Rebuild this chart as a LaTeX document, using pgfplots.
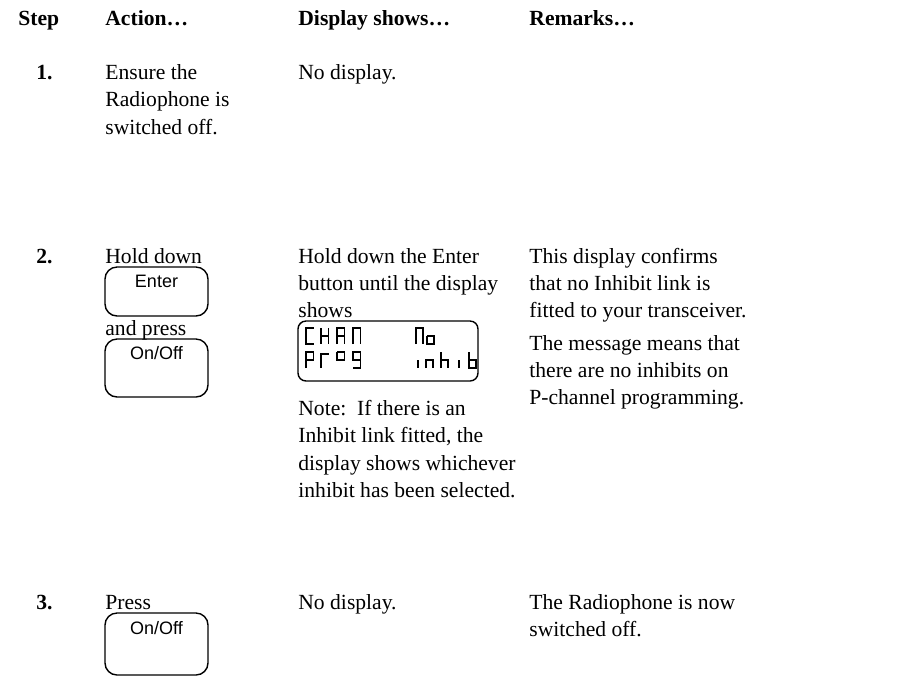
\documentclass[border=0pt]{standalone}
\usepackage{fontspec}
\setmainfont{Liberation Serif}
\setsansfont{Liberation Sans}
\usepackage{pgfplots}
\pgfplotsset{compat=1.18}
\newcommand\T[1]{{\fontsize{10.8}{13}\selectfont #1}}
\newcommand\B[1]{{\fontsize{10.8}{13}\selectfont\bfseries #1}}
\newcommand\SF[1]{{\fontsize{9}{11}\selectfont\sffamily #1}}
\begin{document}
\begin{tikzpicture}
\begin{axis}[scale only axis, width=452.5pt, height=338.5pt,
  xmin=0, xmax=905, ymin=0, ymax=677, y dir=reverse,
  hide axis, clip=false]
% header
\node[anchor=base west, inner sep=0] at (axis cs:18,25) {\B{Step}};
\node[anchor=base west, inner sep=0] at (axis cs:105,25) {\B{Action…}};
\node[anchor=base west, inner sep=0] at (axis cs:298,25) {\B{Display shows…}};
\node[anchor=base west, inner sep=0] at (axis cs:529,25) {\B{Remarks…}};
% row 1
\node[anchor=base west, inner sep=0] at (axis cs:36,79) {\B{1.}};
\node[anchor=base west, inner sep=0] at (axis cs:105,79) {\T{Ensure the}};
\node[anchor=base west, inner sep=0] at (axis cs:105,106.5) {\T{Radiophone is}};
\node[anchor=base west, inner sep=0] at (axis cs:105,134) {\T{switched off.}};
\node[anchor=base west, inner sep=0] at (axis cs:298,79) {\T{No display.}};
% row 2
\node[anchor=base west, inner sep=0] at (axis cs:36,263) {\B{2.}};
\node[anchor=base west, inner sep=0] at (axis cs:105,263) {\T{Hold down}};
\node[anchor=base west, inner sep=0] at (axis cs:105,335) {\T{and press}};
\node[anchor=base west, inner sep=0] at (axis cs:298,263) {\T{Hold down the Enter}};
\node[anchor=base west, inner sep=0] at (axis cs:298,290.2) {\T{button until the display}};
\node[anchor=base west, inner sep=0] at (axis cs:298,317.4) {\T{shows}};
\node[anchor=base west, inner sep=0] at (axis cs:298,415) {\T{Note:\ \ If there is an}};
\node[anchor=base west, inner sep=0] at (axis cs:298,442.5) {\T{Inhibit link fitted, the}};
\node[anchor=base west, inner sep=0] at (axis cs:298,470) {\T{display shows whichever}};
\node[anchor=base west, inner sep=0] at (axis cs:298,497.5) {\T{inhibit has been selected.}};
\node[anchor=base west, inner sep=0] at (axis cs:529,263) {\T{This display confirms}};
\node[anchor=base west, inner sep=0] at (axis cs:529,290.2) {\T{that no Inhibit link is}};
\node[anchor=base west, inner sep=0] at (axis cs:529,317.4) {\T{fitted to your transceiver.}};
\node[anchor=base west, inner sep=0] at (axis cs:529,350) {\T{The message means that}};
\node[anchor=base west, inner sep=0] at (axis cs:529,377.2) {\T{there are no inhibits on}};
\node[anchor=base west, inner sep=0] at (axis cs:529,404.4) {\T{P-channel programming.}};
% row 3
\node[anchor=base west, inner sep=0] at (axis cs:36,609) {\B{3.}};
\node[anchor=base west, inner sep=0] at (axis cs:105,609) {\T{Press}};
\node[anchor=base west, inner sep=0] at (axis cs:298,609) {\T{No display.}};
\node[anchor=base west, inner sep=0] at (axis cs:529,609) {\T{The Radiophone is now}};
\node[anchor=base west, inner sep=0] at (axis cs:529,636.5) {\T{switched off.}};
% buttons
\draw[line width=0.7pt, rounded corners=6pt] (axis cs:105,267) rectangle (axis cs:208,316);
\node[anchor=base, inner sep=0] at (axis cs:156.5,287) {\SF{Enter}};
\draw[line width=0.7pt, rounded corners=6pt] (axis cs:105,339) rectangle (axis cs:208,397);
\node[anchor=base, inner sep=0] at (axis cs:156.5,359) {\SF{On/Off}};
\draw[line width=0.7pt, rounded corners=6pt] (axis cs:105,613) rectangle (axis cs:208,675);
\node[anchor=base, inner sep=0] at (axis cs:156.5,634) {\SF{On/Off}};
% LCD box
\draw[line width=0.7pt, rounded corners=4pt] (axis cs:298,321) rectangle (axis cs:478,381);
% LCD glyphs
\addplot[black, line width=0.9pt, mark=none, unbounded coords=jump] coordinates {
(313.5,328) (306,328) (306,344) (313.5,344) (nan,nan)
(321,328) (321,344) (nan,nan) (328.5,328) (328.5,344) (nan,nan) (321,336) (328.5,336) (nan,nan)
(337,344) (337,328) (344.5,328) (344.5,344) (nan,nan) (337,336) (344.5,336) (nan,nan)
(353,344) (353,328) (360.5,328) (360.5,344) (nan,nan)
(416,344) (416,328) (423,328) (423,344) (nan,nan)
(427,336) (434,336) (434,344) (427,344) (427,336) (nan,nan)
(306,368) (306,352) (313.5,352) (313.5,360) (306,360) (nan,nan)
(321,368) (321,354) (328.5,354) (nan,nan)
(337,352) (344.5,352) (344.5,360) (337,360) (337,352) (nan,nan)
(360.5,360) (353,360) (353,352) (360.5,352) (360.5,368) (353,368) (nan,nan)
(418,360) (418,368) (nan,nan)
(426,368) (426,360) (433,360) (433,368) (nan,nan)
(441,352) (441,368) (nan,nan) (441,360) (448,360) (448,368) (nan,nan)
(459,360) (459,368) (nan,nan)
(469,352) (469,368) (476,368) (476,360) (469,360)
};
\end{axis}
\pgfresetboundingbox
\useasboundingbox (current axis.south west) rectangle (current axis.north east);
\end{tikzpicture}
\end{document}
